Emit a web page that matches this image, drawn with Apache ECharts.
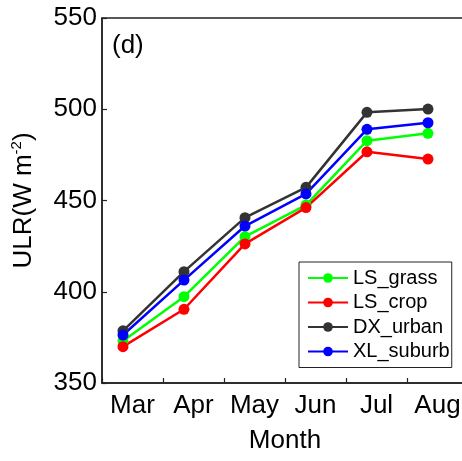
<!DOCTYPE html>
<html>
<head>
<meta charset="utf-8">
<script src="https://cdn.jsdelivr.net/npm/echarts@6/dist/echarts.min.js"></script>
<style>html,body{margin:0;padding:0;background:#fff}#c{width:462px;height:461px}</style>
</head>
<body>
<div id="c"></div>
<script>
var months = ['Mar', 'Apr', 'May', 'Jun', 'Jul', 'Aug'];
var seriesNames = ['LS_grass', 'LS_crop', 'DX_urban', 'XL_suburb'];
var lsGrass  = [373.0, 397.3, 430.2, 447.5, 482.8, 486.8];
var lsCrop   = [369.9, 390.4, 426.2, 446.1, 476.7, 472.7];
var dxUrban  = [378.6, 411.0, 440.6, 457.2, 498.3, 500.1];
var xlSuburb = [376.3, 406.4, 436.0, 453.6, 489.0, 492.6];
var yTicks = [350, 400, 450, 500, 550];
var colors = ['#00ff00', '#ff0000', '#333333', '#0000ff'];
var allData = [lsGrass, lsCrop, dxUrban, xlSuburb];

var FONT = 'Liberation Sans, Arial, sans-serif';
var chart = echarts.init(document.getElementById('c'));
var series = allData.map(function (d, i) {
  return {
    name: seriesNames[i],
    type: 'line',
    xAxisIndex: 1,
    data: d.map(function (v, k) { return [k, v]; }),
    symbol: 'circle',
    symbolSize: 11,
    lineStyle: { width: 2.5, color: colors[i] },
    itemStyle: { color: colors[i] },
    emphasis: { disabled: true },
    animation: false
  };
});
chart.setOption({
  animation: false,
  grid: { left: 102, top: 18, width: 366, bottom: 78, outerBoundsMode: 'none', containLabel: false, show: true, borderColor: '#222', borderWidth: 1.5, backgroundColor: 'transparent' },
  xAxis: [{
    type: 'category',
    data: months,
    boundaryGap: true,
    name: 'Month',
    nameLocation: 'middle',
    nameGap: 45,
    nameTextStyle: { fontFamily: FONT, fontSize: 26, color: '#000' },
    axisLine: { lineStyle: { color: '#222', width: 1.5 } },
    axisTick: { show: true, inside: true, length: 5, interval: 0, lineStyle: { color: '#222', width: 1.2 } },
    axisLabel: { fontFamily: FONT, fontSize: 26, color: '#000', margin: 10, interval: 0, hideOverlap: false },
    splitLine: { show: false }
  }, {
    type: 'value',
    min: -0.344,
    max: 5.656,
    show: false
  }],
  yAxis: {
    type: 'value',
    min: yTicks[0],
    max: yTicks[yTicks.length - 1],
    interval: 50,
    name: '{n|ULR(W m}{s|-2}{n|)}',
    nameLocation: 'middle',
    nameGap: 64,
    nameRotate: 90,
    nameTextStyle: {
      fontFamily: FONT, fontSize: 26, color: '#000',
      rich: {
        n: { fontFamily: FONT, fontSize: 26, color: '#000' },
        s: { fontFamily: FONT, fontSize: 15, color: '#000', verticalAlign: 'top', padding: [0, 0, 14, 0] }
      }
    },
    axisLine: { show: true, onZero: false, lineStyle: { color: '#222', width: 1.5 } },
    axisTick: { show: true, inside: true, length: 5, lineStyle: { color: '#222', width: 1.2 } },
    axisLabel: { fontFamily: FONT, fontSize: 26, color: '#000', margin: 5 },
    splitLine: { show: false }
  },
  legend: {
    data: seriesNames,
    orient: 'vertical',
    left: 299,
    top: 262,
    padding: [6, 2, 6, 8],
    itemGap: 4.5,
    itemWidth: 40,
    itemHeight: 12,
    itemTextGap: 10,
    borderColor: '#222',
    borderWidth: 1,
    backgroundColor: '#fff',
    textStyle: { fontFamily: FONT, fontSize: 20, color: '#000', lineHeight: 20 }
  },
  graphic: [{
    type: 'text',
    left: 112,
    top: 33,
    style: { text: '(d)', font: '26px ' + FONT, fill: '#000' }
  }],
  series: series
});
</script>
</body>
</html>
